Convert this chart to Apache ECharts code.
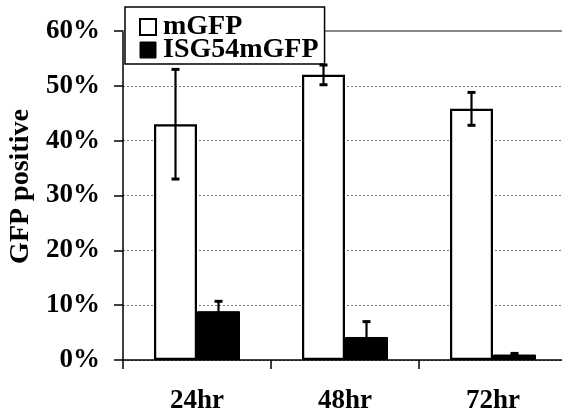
<!DOCTYPE html>
<html>
<head>
<meta charset="utf-8">
<script src="https://cdn.jsdelivr.net/npm/echarts@6/dist/echarts.min.js"></script>
<style>html,body{margin:0;padding:0;background:#fff;}#c{width:562px;height:419px;}</style>
</head>
<body>
<div id="c"></div>
<script>
const categories = ['24hr', '48hr', '72hr'];
const mgfp = [43.0, 52.0, 45.8];
const mgfpErr = [10.0, 1.8, 3.0];
const isg = [8.9, 4.2, 1.0];
const isgErr = [1.8, 2.8, 0.2];
const yMin = 0, yMax = 60, yStep = 10;

const FONT = 'Liberation Serif';
const BAR_W = 43;

function errSeries(name, vals, errs, side) {
  return {
    type: 'custom',
    name: name,
    z: 5,
    data: vals.map((v, i) => [i, v, errs[i]]),
    renderItem: function (params, api) {
      const i = api.value(0), v = api.value(1), e = api.value(2);
      const c = api.coord([i, v]);
      const x = c[0] + side * BAR_W / 2;
      const top = api.coord([i, v + e])[1];
      const bot = api.coord([i, v - e])[1];
      const cap = 4;
      const st = { stroke: '#000', lineWidth: 2.2 };
      return {
        type: 'group',
        children: [
          { type: 'line', shape: { x1: x, y1: top, x2: x, y2: bot }, style: st },
          { type: 'line', shape: { x1: x - cap, y1: top, x2: x + cap, y2: top }, style: { stroke: '#000', lineWidth: 3 } },
          { type: 'line', shape: { x1: x - cap, y1: bot, x2: x + cap, y2: bot }, style: { stroke: '#000', lineWidth: 3 } }
        ]
      };
    }
  };
}

const chart = echarts.init(document.getElementById('c'), null, { renderer: 'canvas' });
chart.setOption({
  animation: false,
  backgroundColor: '#fff',
  textStyle: { fontFamily: FONT },
  grid: { left: 123, top: 31, bottom: 59, right: -5, containLabel: false, outerBoundsMode: 'none' },
  legend: {
    left: 125, top: 7,
    orient: 'vertical',
    backgroundColor: '#fff',
    borderColor: '#000',
    borderWidth: 1.5,
    borderRadius: 0,
    padding: [6, 6, 0, 14],
    itemWidth: 16, itemHeight: 16, itemGap: -5,
    textStyle: { fontFamily: FONT, fontWeight: 'bold', fontSize: 28, color: '#000', lineHeight: 23, padding: [0, 0, 0, 2] },
    data: [
      { name: 'mGFP', icon: 'rect', itemStyle: { color: '#fff', borderColor: '#000', borderWidth: 2 } },
      { name: 'ISG54mGFP', icon: 'rect', itemStyle: { color: '#000', borderColor: '#000', borderWidth: 1 } }
    ]
  },
  xAxis: [{
    type: 'category',
    data: categories,
    boundaryGap: true,
    axisLine: { lineStyle: { color: '#000', width: 1.5 } },
    axisTick: { show: true, length: 9, inside: false, lineStyle: { color: '#000', width: 1.5 } },
    axisLabel: { fontFamily: FONT, fontWeight: 'bold', fontSize: 27, color: '#000', margin: 28 },
    splitLine: { show: false }
  }, {
    type: 'category',
    position: 'top',
    data: categories,
    axisLine: { lineStyle: { color: '#888', width: 2 } },
    axisTick: { show: false },
    axisLabel: { show: false },
    splitLine: { show: false }
  }],
  yAxis: {
    type: 'value',
    min: yMin, max: yMax, interval: yStep,
    name: 'GFP positive',
    nameLocation: 'middle',
    nameRotate: 90,
    nameGap: 87,
    nameTextStyle: { fontFamily: FONT, fontWeight: 'bold', fontSize: 28, color: '#000', padding: [0, 0, 0, 18] },
    axisLine: { show: true, lineStyle: { color: '#000', width: 1.5 } },
    axisTick: { show: true, length: 9, inside: false, lineStyle: { color: '#000', width: 1.5 } },
    axisLabel: { fontFamily: FONT, fontWeight: 'bold', fontSize: 27, color: '#000', margin: 23, formatter: '{value}%' },
    splitLine: { show: true, showMaxLine: false, lineStyle: { color: '#777', type: [2, 2], width: 1 } }
  },
  series: [
    {
      name: 'mGFP', type: 'bar', data: mgfp, barWidth: BAR_W, barGap: '0%',
      itemStyle: { color: '#fff', borderColor: '#000', borderWidth: 2.2 }
    },
    {
      name: 'ISG54mGFP', type: 'bar', data: isg, barWidth: BAR_W, barGap: '0%',
      itemStyle: { color: '#000', borderColor: '#000', borderWidth: 1 }
    },
    errSeries('mGFP error', mgfp, mgfpErr, -1),
    errSeries('ISG54mGFP error', isg, isgErr, 1)
  ]
});
</script>
</body>
</html>
